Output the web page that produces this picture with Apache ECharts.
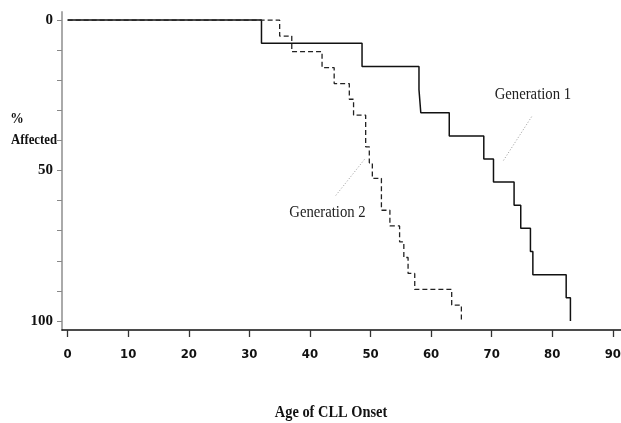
<!DOCTYPE html>
<html>
<head>
<meta charset="utf-8">
<title>Age of CLL Onset</title>
<script src="https://cdn.jsdelivr.net/npm/echarts@6/dist/echarts.min.js"></script>
<style>
  html, body { margin: 0; padding: 0; background: #fff; }
  #chart_cll { width: 621px; height: 423px; }
</style>
</head>
<body>
<div id="chart_cll"></div>
<script>
// data
var gen1Age = [0, 32, 48.6, 58.0, 58.3, 63.0, 68.7, 70.3, 73.7, 74.8, 76.4, 76.8, 82.3, 83];
var gen1Pct = [0, 7.7, 15.4, 23.1, 30.8, 38.5, 46.2, 53.8, 61.5, 69.2, 76.9, 84.6, 92.3, 100];
var gen2Age = [0, 35, 37, 42, 44, 46.5, 47.2, 49.2, 49.8, 50.3, 51.8, 53.2, 54.8, 55.5, 56.2, 57.3, 63.4, 65];
var gen2Pct = [0, 5.3, 10.5, 15.8, 21.1, 26.3, 31.6, 42.1, 47.4, 52.6, 63.2, 68.4, 73.7, 78.9, 84.2, 89.5, 94.7, 100];
var xTicks = [0, 10, 20, 30, 40, 50, 60, 70, 80, 90];
var yTicks = [0, 10, 20, 30, 40, 50, 60, 70, 80, 90, 100];
var yLabels = [0, 50, 100];

function pairs(xs, ys) {
    var out = [];
    for (var i = 0; i < xs.length; i++) out.push([xs[i], ys[i]]);
    return out;
}

// annotation: label anchor and pointer line, in data units
var notes = [
    {text: 'Generation 1', at: [76.8, 24.9], from: [76.6, 32.1], to: [71.8, 47.1]},
    {text: 'Generation 2', at: [42.9, 64.1], from: [49.0, 46.3], to: [44.1, 58.7]}
];

var serif = '"Liberation Serif", "DejaVu Serif", serif';
var narrow = '"Liberation Sans Narrow", "DejaVu Sans Condensed", sans-serif';

var option_cll = {
    backgroundColor: '#fff',
    animation: false,
    grid: {left: 62, right: 0, top: 12, bottom: 93, containLabel: false, outerBoundsMode: 'none'},
    xAxis: {
        type: 'value',
        position: 'bottom',
        min: -0.93,
        max: 91.35,
        splitLine: {show: false},
        axisLine: {onZero: false, lineStyle: {color: '#111', width: 1.5}},
        axisTick: {show: true, length: 7, customValues: xTicks, lineStyle: {color: '#333', width: 1.3}},
        axisLabel: {
            customValues: xTicks,
            margin: 18,
            color: '#111',
            fontFamily: narrow,
            fontWeight: 'bold',
            fontSize: 13
        }
    },
    yAxis: {
        type: 'value',
        inverse: true,
        min: -2.7,
        max: 103,
        splitLine: {show: false},
        axisLine: {show: true, onZero: false, lineStyle: {color: '#aaa', width: 2}},
        axisTick: {show: true, length: 5, customValues: yTicks, lineStyle: {color: '#888', width: 1}},
        axisLabel: {
            customValues: yLabels,
            margin: 9,
            color: '#111',
            fontFamily: serif,
            fontWeight: 'bold',
            fontSize: 15
        }
    },
    series: [{
        name: 'Generation 1',
        type: 'line',
        step: 'end',
        symbol: 'none',
        lineStyle: {color: '#111', width: 1.5},
        data: pairs(gen1Age, gen1Pct),
        markLine: {
            silent: true,
            symbol: 'none',
            label: {show: false},
            lineStyle: {color: '#999', width: 1, type: [1, 2]},
            data: [[{coord: notes[0].from}, {coord: notes[0].to}]]
        }
    }, {
        name: 'Generation 2',
        type: 'line',
        step: 'end',
        symbol: 'none',
        lineStyle: {color: '#222', width: 1.3, type: [5, 3]},
        data: pairs(gen2Age, gen2Pct),
        markLine: {
            silent: true,
            symbol: 'none',
            label: {show: false},
            lineStyle: {color: '#999', width: 1, type: [1, 2]},
            data: [[{coord: notes[1].from}, {coord: notes[1].to}]]
        }
    }]
};

var chart_cll = echarts.init(document.getElementById('chart_cll'));
chart_cll.setOption(option_cll);

// texts: axis titles fixed, curve labels placed through the grid scale
var g = [
    {type: 'text', x: 17, y: 119, scaleX: 0.9, style: {text: '%', fill: '#111', font: 'bold 15px ' + serif, align: 'center', verticalAlign: 'middle'}},
    {type: 'text', x: 34, y: 140, scaleX: 0.85, style: {text: 'Affected', fill: '#111', font: 'bold 15px ' + serif, align: 'center', verticalAlign: 'middle'}},
    {type: 'text', x: 331, y: 413, scaleX: 0.9, style: {text: 'Age of CLL Onset', fill: '#111', font: 'bold 16px ' + serif, align: 'center', verticalAlign: 'middle'}}
];
notes.forEach(function (n) {
    var p = chart_cll.convertToPixel({gridIndex: 0}, n.at);
    g.push({type: 'text', x: p[0], y: p[1], scaleX: 0.92, style: {
        text: n.text, fill: '#222', font: '16px ' + serif, align: 'center', verticalAlign: 'middle'}});
});
chart_cll.setOption({graphic: g});
</script>
</body>
</html>
